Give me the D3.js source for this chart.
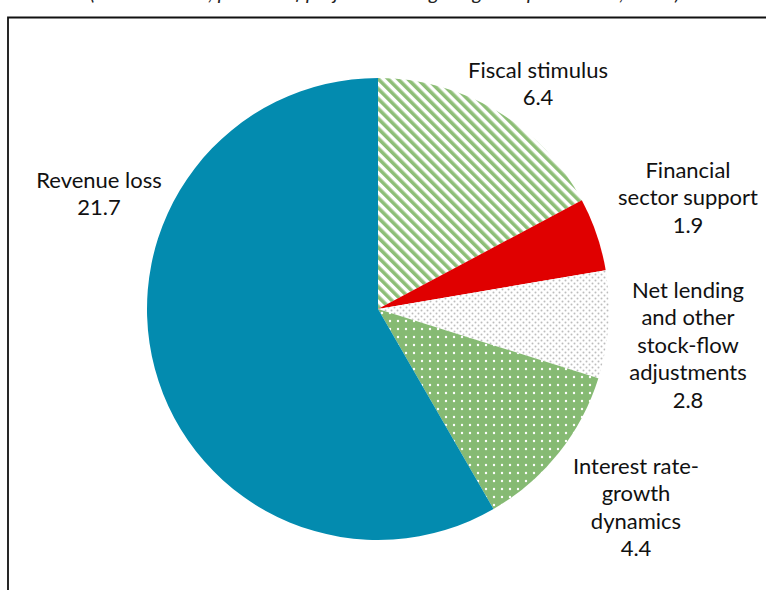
<!DOCTYPE html>
<html><head><meta charset="utf-8">
<script src="https://cdn.jsdelivr.net/npm/d3@7"></script>
<style>body{margin:0;background:#fff}svg{display:block}</style>
</head><body>
<svg id="c" width="766" height="590"></svg>
<script>
const categories = ["Fiscal stimulus","Financial sector support","Net lending and other stock-flow adjustments","Interest rate-growth dynamics","Revenue loss"];
const values = [6.4, 1.9, 2.8, 4.4, 21.7];
const labelLines = [["Fiscal stimulus"],["Financial","sector support"],["Net lending","and other","stock-flow","adjustments"],["Interest rate-","growth","dynamics"],["Revenue loss"]];
const valueLabels = ["6.4","1.9","2.8","4.4","21.7"];
const labelPos = [[538,70],[688,170],[688,290],[636,466],[99,180]];
const fills = ["url(#stripes)","#E00000","url(#grayDots)","url(#greenDots)","#038BAF"];

const svg = d3.select("#c");
const defs = svg.append("defs");
const st = defs.append("pattern").attr("id","stripes").attr("patternUnits","userSpaceOnUse")
  .attr("width",7).attr("height",7).attr("patternTransform","rotate(-45)");
st.append("rect").attr("width",7).attr("height",7).attr("fill","#fff");
st.append("rect").attr("width",3.6).attr("height",7).attr("fill","#8DBE77");
const gd = defs.append("pattern").attr("id","greenDots").attr("patternUnits","userSpaceOnUse").attr("width",8).attr("height",8);
gd.append("rect").attr("width",8).attr("height",8).attr("fill","#86BA73");
gd.append("circle").attr("cx",4).attr("cy",4).attr("r",1.2).attr("fill","#fff");
const gy = defs.append("pattern").attr("id","grayDots").attr("patternUnits","userSpaceOnUse").attr("width",6).attr("height",6);
gy.append("rect").attr("width",6).attr("height",6).attr("fill","#fff");
gy.append("circle").attr("cx",1.5).attr("cy",1.5).attr("r",1).attr("fill","#bdbdbd");
gy.append("circle").attr("cx",4.5).attr("cy",4.5).attr("r",1).attr("fill","#bdbdbd");

// title (cut off at the top edge, as in the reference)
svg.append("text").attr("x",385).attr("y",0).attr("text-anchor","middle")
  .attr("font-family","Lato").attr("font-style","italic").attr("font-size",20).attr("fill","#222")
  .text("(Contributions; percent of projected change in global public debt, 2020)");

// frame
svg.append("path").attr("d","M8,590 V17.5 H766").attr("fill","none").attr("stroke","#111").attr("stroke-width",1.8);

const cx = 378, cy = 309, r = 231;
const pie = d3.pie().sort(null).value(d=>d);
const arc = d3.arc().innerRadius(0).outerRadius(r);
const g = svg.append("g").attr("transform",`translate(${cx},${cy})`);
g.selectAll("path").data(pie(values)).join("path").attr("d",arc).attr("fill",(d,i)=>fills[i]);

const lg = svg.append("g").attr("font-family","Lato").attr("font-size",22).attr("fill","#111").attr("text-anchor","middle");
categories.forEach((c,i)=>{
  const lines = labelLines[i].concat([valueLabels[i]]);
  const t = lg.append("text").attr("x",labelPos[i][0]).attr("y",labelPos[i][1]);
  lines.forEach((l,j)=>t.append("tspan").attr("x",labelPos[i][0]).attr("dy",j===0?"0.35em":27.5).text(l));
});
</script>
</body></html>
